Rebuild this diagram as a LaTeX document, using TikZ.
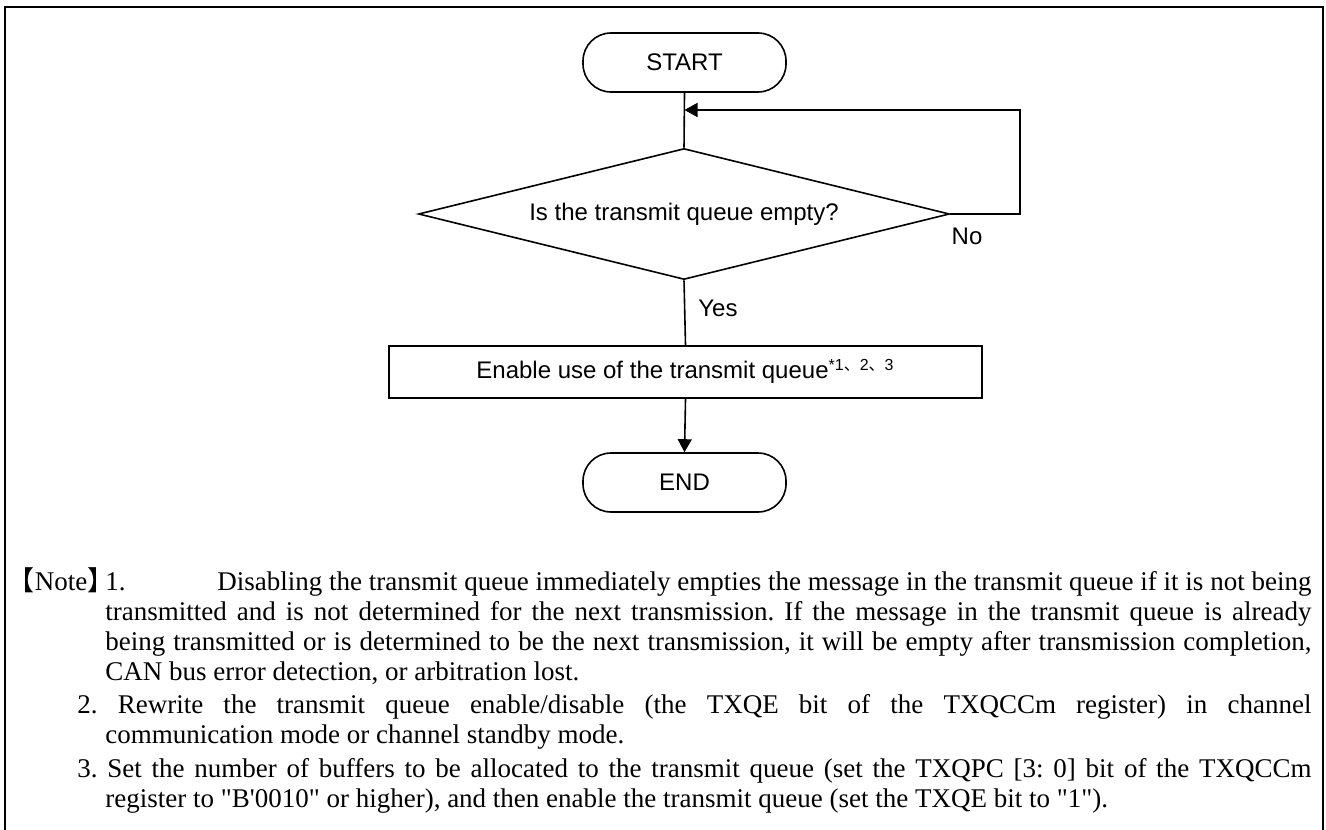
\documentclass[tikz,border=0pt]{standalone}
\usepackage{fontspec}
\setmainfont{Liberation Sans}
\newfontfamily\notefont{Liberation Serif}[Ligatures=TeXOff]
\newfontfamily\cjk{Noto Sans CJK SC}
\usetikzlibrary{arrows.meta,shapes.geometric}
\hyphenpenalty=10000
\exhyphenpenalty=10000
\tikzset{
  flow/.style={font=\fontsize{12}{14}\selectfont},
  term/.style={flow, draw, line width=0.8pt, rounded corners=14pt, minimum width=101.5pt, minimum height=29.5pt, inner sep=0pt},
  decision/.style={flow, draw, diamond, line width=0.8pt, shape aspect=4.05, minimum width=265.5pt, minimum height=65.5pt, inner sep=0pt},
  process/.style={flow, draw, line width=1pt, minimum width=296.5pt, minimum height=26pt, inner sep=0pt},
  conn/.style={line width=0.8pt},
  arrowconn/.style={conn, -{Triangle[length=6.5pt,width=7pt]}},
  lbl/.style={flow, inner sep=0pt},
  notestyle/.style={inner sep=0pt, font={\notefont\fontsize{13.5}{15}\selectfont}}
}
\begin{document}
\begin{tikzpicture}[x=0.5pt,y=-0.5pt]
\useasboundingbox (0,0) rectangle (1326,829);
% frame
\draw[line width=1pt] (5,835) -- (5,7) -- (1323,7) -- (1323,835);
% nodes
\node[term] (start) at (684.5,62.5) {START};
\node[decision] (dec) at (684,214) {\raisebox{1.5pt}{Is the transmit queue empty?}};
\node[process] (proc) at (685.5,372) {\raisebox{3pt}{Enable use of the transmit queue\textsuperscript{*1{\cjk 、}2{\cjk 、}3}}};
\node[term] (end) at (684.5,482.5) {END};
\coordinate (join) at (684.5,110);
\coordinate (loop) at (1020,110);
% connectors
\draw[conn] (start.south) -- (dec.north);
\draw[arrowconn] (dec.east) -| (loop) -- (join);
\draw[conn] (dec.south) -- (proc.north);
\draw[arrowconn] (proc.south) -- (end.north);
% labels
\node[lbl, anchor=west] (yes) at (698,308) {Yes};
\node[lbl] (no) at (967,236) {No};
% notes
\node[notestyle, anchor=base west] (notelabel) at (7.5,590) {{\cjk 【}Note{\cjk 】}};
\node[notestyle, anchor=base west, text width=603pt, align=justify] (notes) at (105,590) {\frenchspacing\setlength{\parskip}{1.75pt}%
\makebox[56pt][l]{1.}Disabling the transmit queue immediately empties the message in the transmit queue if it is not being\linebreak
transmitted and is not determined for the next transmission. If the message in the transmit queue is already\linebreak
being transmitted or is determined to be the next transmission, it will be empty after transmission completion,\linebreak
CAN bus error detection, or arbitration lost.\par
\hspace*{-14pt}2. Rewrite the transmit queue enable/disable (the TXQE bit of the TXQCCm register) in channel\linebreak
communication mode or channel standby mode.\par
\hspace*{-14pt}3. Set the number of buffers to be allocated to the transmit queue (set the TXQPC [3: 0] bit of the TXQCCm\linebreak
register to "B'0010" or higher), and then enable the transmit queue (set the TXQE bit to "1").};
\end{tikzpicture}
\end{document}
